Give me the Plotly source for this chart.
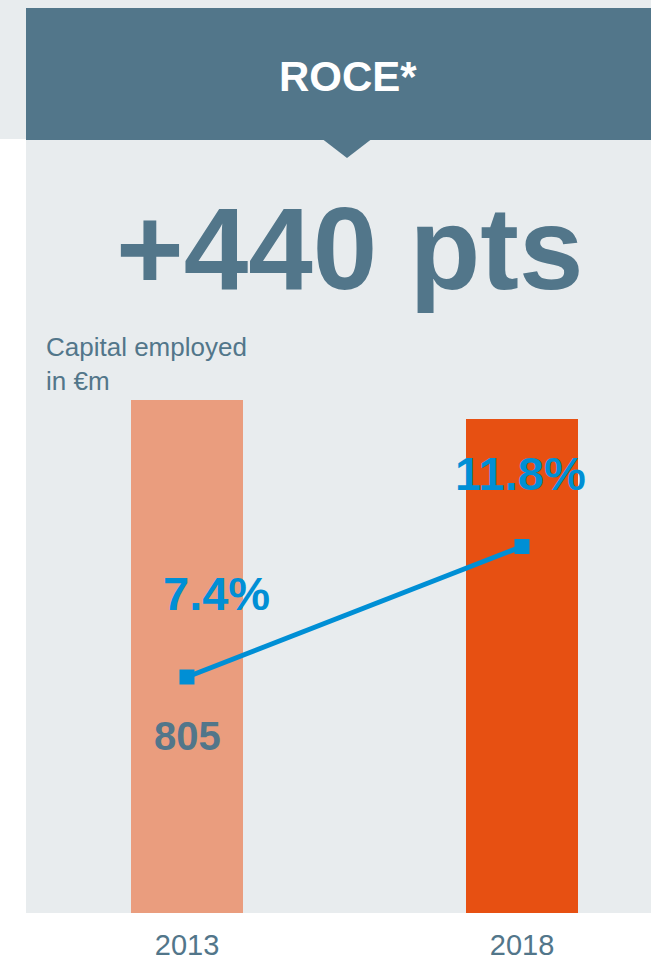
import plotly.graph_objects as go

# ---- data ----
years = ["2013", "2018"]
capital_employed = [805, 775]          # € m (only 2013 is labelled)
roce_pct = [7.4, 11.8]                 # ROCE in %
bar_colors = ["#EA9D7E", "#E75012"]

# ---- page geometry (pixels) ----
W, H = 651, 962
DARK = "#52768A"
LIGHT = "#E8ECEE"
BLUE = "#008FD5"
FONT = "Liberation Sans, Arial, sans-serif"

PLOT_L, PLOT_R = 26, 651
PLOT_T, PLOT_B = 300, 913


def px(x):
    return x / W


def py(y):
    return 1 - y / H


# x axis: category centres at 187 px and 522 px
x0_px, x1_px = 187, 522
unit = x1_px - x0_px
x_range = [-(x0_px - PLOT_L) / unit, 1 + (PLOT_R - x1_px) / unit]
bar_w = 112 / unit

# left axis: tallest bar top at 400 px
bar_top_px = 400
y_range = [0, capital_employed[0] * (PLOT_B - PLOT_T) / (PLOT_B - bar_top_px)]

# right axis: ROCE points at 677 px and 546.5 px
p0, p1 = 677, 546.5
ppu = (p0 - p1) / (roce_pct[1] - roce_pct[0])
y2_range = [roce_pct[0] - (PLOT_B - p0) / ppu, roce_pct[0] + (p0 - PLOT_T) / ppu]

fig = go.Figure()

fig.add_trace(go.Bar(
    x=years, y=capital_employed, width=bar_w,
    marker=dict(color=bar_colors, line=dict(width=0)),
    hoverinfo="skip", showlegend=False,
))

fig.add_trace(go.Scatter(
    x=years, y=roce_pct, yaxis="y2", mode="lines+markers",
    line=dict(color=BLUE, width=5),
    marker=dict(symbol="square", size=15, color=BLUE),
    hoverinfo="skip", showlegend=False,
))

shapes = [
    # light strip along the top and the left
    dict(type="rect", xref="paper", yref="paper", x0=0, x1=1, y0=py(8), y1=1,
         fillcolor=LIGHT, line_width=0, layer="below"),
    dict(type="rect", xref="paper", yref="paper", x0=0, x1=px(26), y0=py(139), y1=1,
         fillcolor=LIGHT, line_width=0, layer="below"),
    # main panel
    dict(type="rect", xref="paper", yref="paper", x0=px(26), x1=1, y0=py(913), y1=py(140),
         fillcolor=LIGHT, line_width=0, layer="below"),
    # header band
    dict(type="rect", xref="paper", yref="paper", x0=px(26), x1=1, y0=py(140), y1=py(8),
         fillcolor=DARK, line_width=0, layer="below"),
    # pointer under the header
    dict(type="path", xref="paper", yref="paper",
         path=f"M {px(323)} {py(139.5)} L {px(371)} {py(139.5)} L {px(347)} {py(158)} Z",
         fillcolor=DARK, line_width=0, layer="below"),
]

annotations = [
    dict(text="<b>ROCE*</b>", xref="paper", yref="paper", x=px(348), y=py(76),
         xanchor="center", yanchor="middle", showarrow=False,
         font=dict(family=FONT, size=42, color="white")),
    dict(text="<b>+440 pts</b>", xref="paper", yref="paper", x=px(350), y=py(249),
         xanchor="center", yanchor="middle", showarrow=False,
         font=dict(family=FONT, size=116, color=DARK)),
    dict(text="Capital employed<br>in €m", xref="paper", yref="paper", x=px(44), y=py(330),
         xanchor="left", yanchor="top", align="left", showarrow=False,
         font=dict(family=FONT, size=26, color=DARK)),
    # value labels, placed on the category index of each year
    dict(text=f"<b>{capital_employed[0]}</b>", x=0, y=capital_employed[0], yref="y",
         yshift=-(736 - bar_top_px), xanchor="center", yanchor="middle", showarrow=False,
         font=dict(family=FONT, size=40, color=DARK)),
    dict(text=f"<b>{roce_pct[0]}%</b>", x=0, y=roce_pct[0], yref="y2",
         xshift=29, yshift=p0 - 593.5, xanchor="center", yanchor="middle", showarrow=False,
         font=dict(family=FONT, size=47, color=BLUE)),
    dict(text=f"<b>{roce_pct[1]}%</b>", x=1, y=roce_pct[1], yref="y2",
         xshift=-2, yshift=p1 - 473, xanchor="center", yanchor="middle", showarrow=False,
         font=dict(family=FONT, size=47, color=BLUE)),
]

fig.update_layout(
    width=W, height=H,
    margin=dict(l=0, r=0, t=0, b=0, autoexpand=False),
    paper_bgcolor="white",
    plot_bgcolor="rgba(0,0,0,0)",
    font=dict(family=FONT, color=DARK),
    xaxis=dict(domain=[px(PLOT_L), px(PLOT_R)], type="category", range=x_range,
               showgrid=False, zeroline=False, showline=False, ticks="", automargin=False,
               tickfont=dict(family=FONT, size=29, color=DARK), ticklabelstandoff=12),
    yaxis=dict(domain=[py(PLOT_B), py(PLOT_T)], range=y_range, visible=False, automargin=False),
    yaxis2=dict(overlaying="y", side="right", range=y2_range, visible=False, automargin=False),
    shapes=shapes,
    annotations=annotations,
    bargap=0,
)

fig.write_html("out.html")
